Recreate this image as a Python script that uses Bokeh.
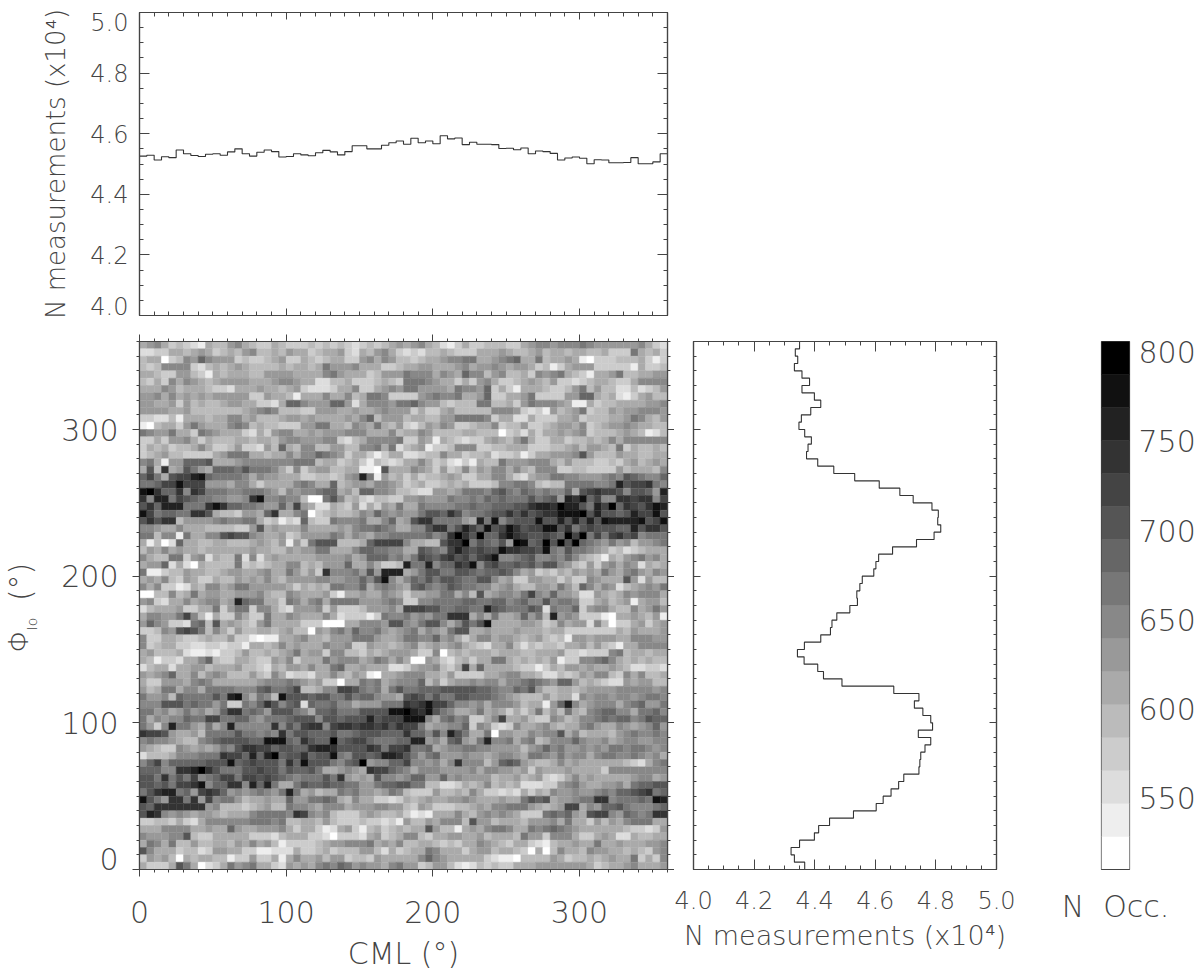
import numpy as np
from bokeh.core.properties import value
from bokeh.embed import file_html
from bokeh.resources import INLINE
from bokeh.plotting import figure
from bokeh.layouts import column, row
from bokeh.models import (ColumnDataSource, CustomJSTickFormatter, FixedTicker, LinearAxis,
                          LinearColorMapper, NumeralTickFormatter, Range1d)
from bokeh.transform import transform

FONT = "DejaVu Sans Light, DejaVu Sans"
INK = "#444444"

TICKS_ANGLE = [0, 100, 200, 300]
MINOR_ANGLE = list(range(0, 361, 10))
TICKS_N = [4.0, 4.2, 4.4, 4.6, 4.8, 5.0]
MINOR_N = [round(4 + 0.05 * i, 2) for i in range(21)]
TICKS_OCC = [550, 600, 650, 700, 750, 800]
OCC_LOW, OCC_HIGH = 510, 806

# N measurements per CML bin (units of 1e4), CML = 0 -> 360 in 5 degree bins
CML_COUNTS = [
    4.526, 4.529, 4.513, 4.524, 4.521, 4.546, 4.534, 4.528, 4.525, 4.532, 4.534, 4.529,
    4.540, 4.550, 4.534, 4.526, 4.539, 4.546, 4.541, 4.523, 4.525, 4.534, 4.530, 4.527,
    4.537, 4.545, 4.540, 4.530, 4.541, 4.560, 4.560, 4.550, 4.550, 4.562, 4.570, 4.576,
    4.565, 4.585, 4.570, 4.576, 4.567, 4.593, 4.583, 4.586, 4.564, 4.572, 4.565, 4.565,
    4.564, 4.551, 4.552, 4.547, 4.553, 4.534, 4.543, 4.541, 4.535, 4.513, 4.520, 4.523,
    4.519, 4.501, 4.514, 4.513, 4.504, 4.504, 4.505, 4.521, 4.501, 4.501, 4.507, 4.534,
]

# N measurements per Phi_Io bin (units of 1e4), listed from Phi_Io = 360 down to 0
PHI_COUNTS = [
    4.350, 4.336, 4.344, 4.333, 4.358, 4.383, 4.358, 4.399, 4.420, 4.387, 4.356, 4.348,
    4.367, 4.389, 4.378, 4.373, 4.410, 4.463, 4.532, 4.613, 4.681, 4.725, 4.787, 4.808,
    4.806, 4.816, 4.794, 4.736, 4.657, 4.611, 4.602, 4.595, 4.557, 4.549, 4.539, 4.541,
    4.516, 4.473, 4.457, 4.452, 4.420, 4.366, 4.343, 4.365, 4.410, 4.429, 4.490, 4.661,
    4.744, 4.729, 4.757, 4.783, 4.789, 4.742, 4.783, 4.764, 4.750, 4.747, 4.744, 4.694,
    4.677, 4.652, 4.626, 4.603, 4.528, 4.449, 4.413, 4.399, 4.350, 4.322, 4.333, 4.367,
]

# Occurrence class of every cell (hex digit, 0 lightest .. f darkest).
# One string per Phi_Io bin from 360 down to 0, one digit per CML bin from 0 to 360.
HEAT_ROWS = [
    "567534321544 675433543334 343432343456 567542135334 443356776777 876666667532",
    "223355456534 546744546553 455632546753 232445433355 565445645545 544533385453",
    "455034769766 634334563354 345533675764 434556778855 678955845565 103334445313",
    "434777732454 565444454554 586667555334 556655567566 765665341356 663333315334",
    "554336643154 555446666555 578655534666 877757659774 674453767854 315568445566",
    "435375765456 666555677655 224453334543 888765535367 533456546332 345543357777",
    "555764555433 255565545632 223557335676 886666587769 353155543346 846442242346",
    "667575656566 666336554155 575574588733 336787785569 335568333366 995452135644",
    "665563645445 665533259976 669962577768 897664344488 445368777651 153445555667",
    "666655644444 445678744433 666556556766 635335644444 777632316456 834465667776",
    "332241555455 775644456656 555565794666 455446688887 355225333556 344455687546",
    "104553686555 787454433366 885547658546 324657633455 734463345665 734566765544",
    "876685538765 553253677556 566677755574 557644445544 403425355656 734445654124",
    "335366753544 455455467766 677324577778 336515432335 654685335534 454575777777",
    "354534457533 463326495477 446644778582 456133477733 445553334456 466548354454",
    "345644333356 888554557577 987635531355 223447553445 233413556667 a64446554455",
    "785166999a55 567777777888 455345314323 557534213154 486667775464 443343564565",
    "5a4c56a86599 98a888753735 664455110a55 576536347465 775754777334 433336455547",
    "9b85abbde988 887576655533 443467d81645 353445653355 775325668877 666787a98779",
    "889bbebbb666 577535555787 559456657765 345334545333 477887434488 88778dabbc87",
    "efc99c7cb888 778887647677 899564997764 432266568887 9a8798787795 abcbba7aa96d",
    "c7dd8ba98877 667ce7787740 08a745324433 667666877879 89888a89a6dc e9b77ccbcc7b",
    "ac9ddd888cec 998876696b65 225436253658 558777788988 999aacddcfdd a8dbf9cbaced",
    "eb89988cca54 436659c55780 345445769767 668aa9ca7889 aacacabcceee fadaa9adbbea",
    "acacc4666678 778853413294 338777855795 6acc888865d8 e79aaaeaadad adaeddddeabe",
    "776557555444 4336a5655575 555657889875 577acc8adb9e abecabbeeac8 abaaa99dacca",
    "88477185577a baa765563466 668757657788 888978cfcaf9 9cecbaaba9fb f8b8bcab7888",
    "514029554455 444565461638 aaa44459bbbb 75544accf8a9 8a6fe9afafaf 987686746678",
    "465756554555 555655446566 885557998877 55a987bdbaba aeccbbae87a8 876534234555",
    "754488367254 482725655555 666675699978 68ba9bcab9bc e7789a778797 543154678675",
    "566925205444 483434557745 466695575334 d88d799cbe7a b99a9a8aa764 363675762545",
    "811344655445 665567558646 3c77786a6ddd 568aa88aa989 9a9756343546 565865786576",
    "565743653354 465657546666 77667797ae75 798a8aa988aa 756336655353 376555a62644",
    "757331254775 688666665354 548877957876 59a878a98877 567544665864 975762456768",
    "004474585665 566675447655 563155655765 3556688574a5 67768b769665 226545767775",
    "673255756775 6d9885538757 858888666787 337788889988 9978977a7887 335645615664",
    "245556335583 688377532666 736333466675 bbbaa889988d a9888a928779 367754475686",
    "577668b74153 375338557655 575233313877 867688ccc575 85569684d676 333105565461",
    "6976332894a5 654368555533 3000557776aa 768aa757a8ae 555566534756 627403356356",
    "33476aba8475 364455456440 657869778656 7857658aa556 555655545533 333335465556",
    "733554334544 633101155675 546668886556 887796753577 566545643416 656665577766",
    "734553322332 331554575655 576673365545 674565675432 557424344355 646431557777",
    "564445211213 346445456856 637744354566 653370454555 455544555633 233378455455",
    "541332557943 355433657355 586777568757 500653245355 885454546133 778975454544",
    "245525566455 564432546657 558955655522 35667435b595 555433135466 565565422332",
    "656795574676 444643752332 557546510556 777554633335 567755422434 657743757445",
    "533666578755 555567778765 633055878567 779463566767 757789876996 454322656644",
    "645885775888 87779a889b44 577bba87858a 88999aaaaa99 87798a644554 566667777767",
    "8667498888a8 de75874eaaa9 aa88a8997665 aba8a88aa999 876544464552 767767767887",
    "777aaa898868 33879ca79a29 889775666888 cbcebb977675 7776455169d7 567775789668",
    "886756867569 cc8986aaa875 99a888aaaaee fdcea8755685 653535846485 478997758897",
    "857677988bb8 899768889aaa 7aa9aaadabbb eee758978335 7b5564337645 778989978a99",
    "8637d8865857 d77777c7a8bc c7bccbccbcac bb8566779376 323755675455 786557656796",
    "cbba65564888 8a88787c8aa9 99a889aaa999 c997a7da8558 066557677a57 455546787787",
    "78776544789a aaa99eee98ca 99f9abb98889 9dd6759a658d 778578457779 766756776677",
    "654337656568 7accbb9aa99c ddcaaaacb8bb c88956778877 666646797866 767688788767",
    "24445777888c bb9d9df9aac9 aae87aa9addc a86896667665 677658876867 757887787675",
    "79b799999aaa e9abaaa8c9ea aa879af67799 b776757c7774 69a965445756 555555432578",
    "99977ccdfca8 88aabaa8a99a 8556765cbb98 757776666757 766563655565 555377777777",
    "aa8c8a8b789b b8bbaba98788 8a8c6565a776 799669676666 455645632357 565555567756",
    "aa9a8bbce799 cc7d9d8558a9 9a998866899a a88442235457 454522233678 6556675899aa",
    "8acdd896bcb9 67678768d856 455878665687 433364454753 323253547667 6678799abc89",
    "ea86cc8c6b78 864556559668 898547553323 545655667655 56558a9a5667 88cc788898ed",
    "a9ccccccc674 443456448776 577756667766 436533344565 7788865456bb 57699a877789",
    "adc767656654 555788887cb7 674333565445 312155575467 676533389896 5abb769878cc",
    "334435325777 777888784455 464333433231 644657774a66 455546667585 536465788855",
    "555777755655 965566675355 312563145345 455a64415657 887558789876 555555433236",
    "766677a43355 555333245553 320333256345 774355665564 555486637775 335652254455",
    "587584464455 465756413333 456677785657 445543435576 543553214556 558556555667",
    "a75553442366 553311222533 453444664253 455875553566 455430504755 476655454367",
    "365640545544 133633515755 646634436555 557976555553 211044446534 454565583537",
    "53335a850235 867855326565 787986766578 663466421243 433555666666 653455675556",
]

N_BINS = 72
BIN = 5
cells = [r.replace(" ", "") for r in HEAT_ROWS]
assert len(cells) == N_BINS and all(len(r) == N_BINS for r in cells), [len(r) for r in cells]

palette = ["#%02x%02x%02x" % (255 - 17 * k, 255 - 17 * k, 255 - 17 * k) for k in range(16)]
occ_step = (OCC_HIGH - OCC_LOW) / 16
mapper = LinearColorMapper(palette=palette, low=OCC_LOW, high=OCC_HIGH)

edges = np.arange(0, 361, BIN)
centers = edges[:-1] + BIN / 2
blank = CustomJSTickFormatter(code="return ''")


def base(**kw):
    p = figure(output_backend="svg", toolbar_location=None, **kw)
    p.grid.visible = False
    p.background_fill_color = "white"
    p.outline_line_color = INK
    p.outline_line_width = 1.2
    p.xaxis.visible = False
    p.yaxis.visible = False
    return p


def axis(p, side, ticks, minor, tick_in, tick_out, minor_in, minor_out, text=False, size="24px",
         standoff=0, overrides=None, label=None, label_size="25px", label_standoff=0, marks=True,
         formatter=None):
    a = LinearAxis(ticker=FixedTicker(ticks=ticks, minor_ticks=minor))
    a.axis_line_color = INK if marks else None
    a.axis_line_width = 1.2
    a.major_tick_line_color = INK if marks else None
    a.minor_tick_line_color = INK if marks else None
    a.major_tick_in, a.major_tick_out = tick_in, tick_out
    a.minor_tick_in, a.minor_tick_out = minor_in, minor_out
    a.major_label_standoff = standoff
    if text:
        a.major_label_text_font = FONT
        a.major_label_text_font_size = size
        a.major_label_text_color = INK
        if overrides:
            a.major_label_overrides = overrides
        if formatter:
            a.formatter = formatter
    else:
        a.formatter = blank
    if label:
        a.axis_label = label
        a.axis_label_text_font = FONT
        a.axis_label_text_font_size = label_size
        a.axis_label_text_font_style = "normal"
        a.axis_label_text_color = INK
        a.axis_label_standoff = label_standoff
    p.add_layout(a, side)
    return a


# ---- top panel: counts against CML
top = base(x_range=Range1d(0, 360), y_range=Range1d(4.0, 5.0), frame_width=528, frame_height=303,
           min_border_left=139, min_border_right=7, min_border_top=12, min_border_bottom=10)
xs = np.repeat(edges, 2)[1:-1]
top.line(xs, np.repeat(CML_COUNTS, 2), line_color="#333333", line_width=1.1)
axis(top, "left", TICKS_N, MINOR_N, 10, 0, 4, 0)
# tick labels at the ends of the axis sit just inside the frame, as in the original
top_label_at = [4.033, 4.2, 4.4, 4.6, 4.8, 4.967]
axis(top, "left", top_label_at, [], 0, 0, 0, 0, text=True, standoff=11, marks=False,
     overrides={at: "%.1f" % t for at, t in zip(top_label_at, TICKS_N)},
     label="N measurements (x10\u2074)", label_size="26px", label_standoff=16)
axis(top, "right", TICKS_N, MINOR_N, 10, 0, 4, 0)
axis(top, "below", TICKS_ANGLE, MINOR_ANGLE, 7, 0, 4, 0)
axis(top, "above", TICKS_ANGLE, MINOR_ANGLE, 7, 0, 4, 0)

# ---- strip holding the rotated label of the heat map
strip = figure(output_backend="svg", toolbar_location=None, x_range=Range1d(0, 44),
               y_range=Range1d(0, 360), frame_width=44, frame_height=528, min_border_left=0,
               min_border_right=0, min_border_top=16, min_border_bottom=96)
strip.axis.visible = False
strip.grid.visible = False
strip.outline_line_color = None
for txt, x_at, phi_at, size in [("\u03a6", 18, 148, "27px"), ("Io", 31, 163, "14px"), ("(\u00b0)", 20, 183, "30px")]:
    strip.text(x=[x_at], y=[phi_at], text=[txt], angle=np.pi / 2, text_font=value(FONT),
               text_font_size=value(size), text_color=INK, text_align="left", text_baseline="middle")

# ---- heat map
xc, yc, occ = [], [], []
for i, line in enumerate(cells):
    for j, ch in enumerate(line):
        xc.append(centers[j])
        yc.append(centers[N_BINS - 1 - i])
        occ.append(OCC_LOW + (int(ch, 16) + 0.5) * occ_step)
heat_src = ColumnDataSource(dict(x=xc, y=yc, occ=occ))
heat = base(x_range=Range1d(0, 360), y_range=Range1d(0, 360), frame_width=528, frame_height=528,
            min_border_left=95, min_border_right=7, min_border_top=16, min_border_bottom=96)
heat.rect("x", "y", width=BIN, height=BIN, source=heat_src,
          fill_color=transform("occ", mapper), line_color=transform("occ", mapper), line_width=0.4)
axis(heat, "left", TICKS_ANGLE, MINOR_ANGLE, 0, 7, 0, 3)
heat_label_at = [7.5, 100, 200, 300]
axis(heat, "left", heat_label_at, [], 0, 0, 0, 0, text=True, size="30px", standoff=14, marks=False,
     overrides={at: str(t) for at, t in zip(heat_label_at, TICKS_ANGLE)})
axis(heat, "right", TICKS_ANGLE, MINOR_ANGLE, 0, 7, 0, 3)
axis(heat, "above", TICKS_ANGLE, MINOR_ANGLE, 0, 7, 0, 3)
axis(heat, "below", TICKS_ANGLE, MINOR_ANGLE, 0, 7, 0, 3, text=True, size="30px", standoff=24,
     label="CML (\u00b0)", label_size="30px", label_standoff=10)

# ---- right panel: counts against Phi_Io
side = base(x_range=Range1d(4.0, 5.0), y_range=Range1d(0, 360), frame_width=303, frame_height=528,
            min_border_left=19, min_border_right=24, min_border_top=16, min_border_bottom=96)
ys = np.repeat(edges, 2)[1:-1]
side.line(np.repeat(PHI_COUNTS[::-1], 2), ys, line_color="#333333", line_width=1.1)
axis(side, "left", TICKS_ANGLE, MINOR_ANGLE, 7, 0, 3, 0)
axis(side, "right", TICKS_ANGLE, MINOR_ANGLE, 7, 0, 3, 0)
axis(side, "above", TICKS_N, MINOR_N, 10, 0, 4, 0)
axis(side, "below", TICKS_N, MINOR_N, 10, 0, 4, 0, text=True, standoff=21,
     formatter=NumeralTickFormatter(format="0.0"),
     label="N measurements (x10\u2074)", label_size="27px", label_standoff=8)

# ---- colour bar
cb = base(x_range=Range1d(0, 1), y_range=Range1d(OCC_LOW, OCC_HIGH), frame_width=28, frame_height=528,
          min_border_left=81, min_border_right=69, min_border_top=16, min_border_bottom=96)
levels = np.arange(16)
cb.quad(left=0, right=1, bottom=OCC_LOW + levels * occ_step, top=OCC_LOW + (levels + 1) * occ_step,
        fill_color=palette, line_color=palette, line_width=0.4)
axis(cb, "right", TICKS_OCC, [], 0, 0, 0, 0, text=True, size="30px", standoff=9, marks=False)
ba = LinearAxis(ticker=FixedTicker(ticks=[]), axis_label="N\u00a0\u00a0Occ.", axis_label_text_font=FONT,
                axis_label_text_font_size="30px", axis_label_text_font_style="normal",
                axis_label_text_color=INK, axis_label_standoff=19, axis_line_color=INK)
cb.add_layout(ba, "below")

page = column(top, row(strip, heat, side, cb, spacing=0), spacing=0)
open("out.html", "w").write(file_html(page, INLINE))
